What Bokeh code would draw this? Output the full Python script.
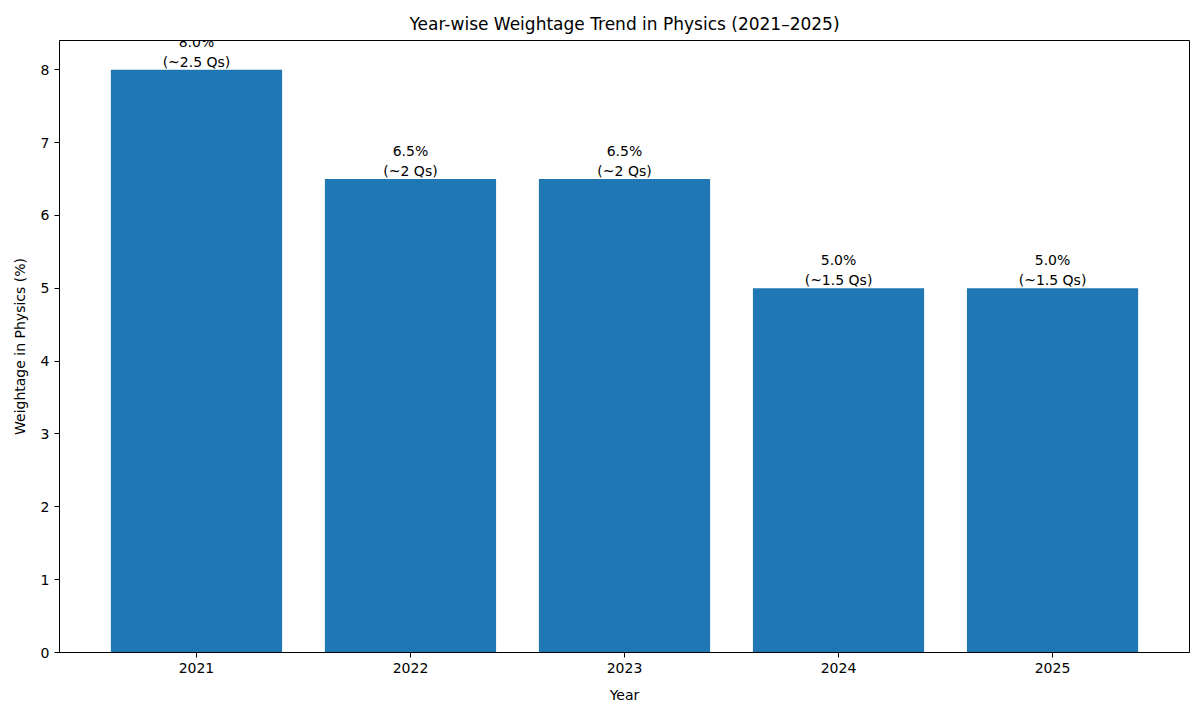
from bokeh.plotting import figure
from bokeh.models import ColumnDataSource, Range1d, FixedTicker
from bokeh.embed import file_html
from bokeh.resources import INLINE

# data
years = ["2021", "2022", "2023", "2024", "2025"]
weightage = [8.0, 6.5, 6.5, 5.0, 5.0]
questions = ["~2.5", "~2", "~2", "~1.5", "~1.5"]

x_pos = list(range(len(years)))
labels = ["%.1f%%\n(%s Qs)" % (w, q) for w, q in zip(weightage, questions)]

src = ColumnDataSource(data=dict(x=x_pos, top=weightage, label=labels))

FONT = "DejaVu Sans"

p = figure(width=1200, height=716, output_backend="svg", toolbar_location=None,
           x_range=Range1d(-0.64, 4.64), y_range=Range1d(0, 8.4),
           min_border_left=59, min_border_right=11, min_border_top=40,
           min_border_bottom=64)

p.vbar(x="x", top="top", bottom=0, width=0.8, source=src,
       fill_color="#1f77b4", line_color=None)

p.text(x="x", y="top", text="label", source=src, text_align="center",
       text_baseline="bottom", text_font_size="14px", text_color="black",
       text_line_height=1.25, text_font={"value": FONT})

p.title.text = "Year-wise Weightage Trend in Physics (2021\u20132025)"
p.title.align = "center"
p.title.text_font = FONT
p.title.text_font_size = "17px"
p.title.text_font_style = "normal"
p.title.text_color = "black"
p.title.standoff = 13

p.xaxis.ticker = FixedTicker(ticks=x_pos)
p.xaxis.major_label_overrides = {i: y for i, y in zip(x_pos, years)}
p.yaxis.ticker = FixedTicker(ticks=list(range(0, 9)))
p.xaxis.axis_label = "Year"
p.yaxis.axis_label = "Weightage in Physics (%)"

for ax in (p.xaxis, p.yaxis):
    ax.axis_label_text_font = FONT
    ax.axis_label_text_font_size = "14px"
    ax.axis_label_text_font_style = "normal"
    ax.axis_label_text_color = "black"
    ax.major_label_text_font = FONT
    ax.major_label_text_font_size = "14px"
    ax.major_label_text_color = "black"
    ax.minor_tick_line_color = None
    ax.major_tick_out = 5
    ax.major_tick_in = 0
    ax.axis_line_color = "black"
    ax.major_tick_line_color = "black"
    ax.major_label_standoff = 5

p.xaxis.axis_label_standoff = 11
p.yaxis.axis_label_standoff = 10

p.xgrid.grid_line_color = None
p.ygrid.grid_line_color = None
p.outline_line_color = "black"
p.outline_line_alpha = 1.0

open("out.html", "w").write(file_html(p, INLINE))
